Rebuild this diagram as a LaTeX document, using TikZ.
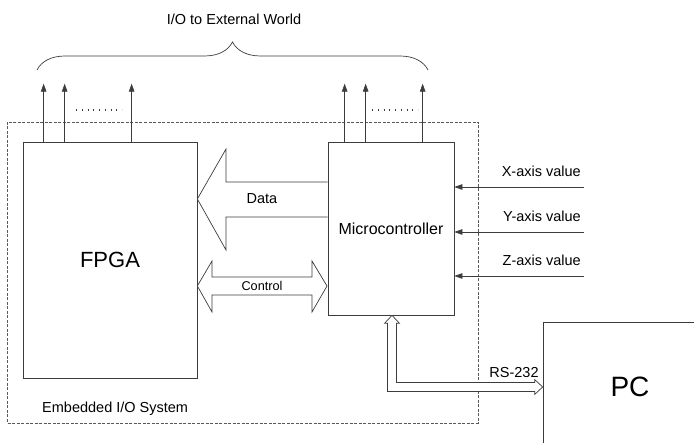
\documentclass[tikz,border=0pt]{standalone}
\usepackage{fontspec}
\setmainfont{Liberation Sans}
\usetikzlibrary{arrows.meta,calc,decorations.pathreplacing}
\definecolor{ln}{RGB}{60,60,60}

\begin{document}
\begin{tikzpicture}[x=1pt, y=-1pt,
  blk/.style={draw=ln, line width=0.7pt, inner sep=0pt},
  lbl/.style={font=\fontsize{14.5}{17}\selectfont, inner sep=1pt},
  io/.style={draw=ln, line width=0.7pt, -{Triangle[length=8pt, width=5.5pt]}},
  hollow/.style={draw=ln, line width=0.7pt, fill=white, line join=miter},
  dots/.style={ln, line width=1.1pt, dash pattern=on 1.1pt off 4.65pt}]
  \useasboundingbox (0,0) rectangle (694,443);
  \clip (0,0) rectangle (694,443);
  % enclosure
  \draw[ln!85, line width=0.6pt, dash pattern=on 3pt off 1.5pt] (7,122) rectangle (478,423);
  \node[lbl, anchor=west] (syslbl) at (41,409) {Embedded I/O System};
  % blocks
  \node[blk, minimum width=174pt, minimum height=236pt, font=\fontsize{22}{26}\selectfont] (fpga) at (110,260) {FPGA};
  \node[blk, minimum width=126pt, minimum height=173pt, font=\fontsize{16}{19}\selectfont] (mcu) at (391,228.5) {Microcontroller};
  \node[blk, minimum width=174pt, minimum height=130pt, font=\fontsize{28}{32}\selectfont] (pc) at (630,387) {PC};
  % outputs to the world
  \foreach \dx in {21,42,109}
    \draw[io] ([xshift=\dx pt]fpga.north west) -- ++(0,-58);
  \foreach \dx in {17,38,95}
    \draw[io] ([xshift=\dx pt]mcu.north west) -- ++(0,-58);
  \draw[dots] (76,110) -- (122,110);
  \draw[dots] (372,110) -- (418,110);
  \draw[ln, line width=0.7pt, decorate, decoration={brace, amplitude=28pt}] (37,70) -- (428,70);
  \node[lbl] (world) at (234,19) {I/O to External World};
  % sensor inputs
  \foreach \y/\t [count=\i] in {187/X, 232/Y, 276/Z} {
    \coordinate (in\i) at (584,\y);
    \node[lbl, anchor=east] (val\i) at ($(in\i)+(-2,-15.5)$) {\t-axis value};
    \draw[io] (in\i) -- (in\i -| mcu.east);
  }
  % data bus
  \draw[hollow] (mcu.west |- 0,182) -- (226,182) -- (226,149) -- (fpga.east |- 0,199)
    -- (226,250) -- (226,217) -- (mcu.west |- 0,217);
  \node[lbl] (data) at (262,199) {Data};
  % control bus
  \draw[hollow] (fpga.east |- 0,286) -- (212,261) -- (212,277) -- (312,277) -- (312,261)
    -- (327,286) -- (312,312) -- (312,295) -- (212,295) -- (212,312) -- cycle;
  \node[lbl, font=\fontsize{12.7}{15}\selectfont] (ctrl) at (262,286) {Control};
  % serial link
  \draw[hollow] ($(mcu.south)+(1,0)$) -- ++(7.5,8) -- ++(-3,0) |- ($(pc.west)+(-8,-4.5)$)
    -- ++(0,-3) -- (pc.west) -- ++(-8,7.5) -- ++(0,-3) -| ($(mcu.south)+(-3.5,8)$)
    -- ++(-3,0) -- cycle;
  \node[lbl] (rs) at (514,373) {RS-232};
\end{tikzpicture}
\end{document}
